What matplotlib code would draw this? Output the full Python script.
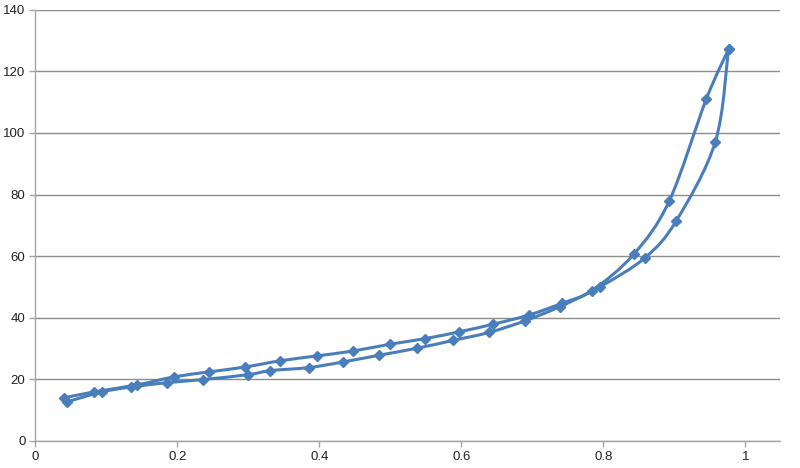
import numpy as np
import matplotlib
matplotlib.use('Agg')
import matplotlib.pyplot as plt
from matplotlib.path import Path
from matplotlib.patches import PathPatch

plt.rcParams['font.family'] = ['Liberation Sans', 'DejaVu Sans']

# upper branch (desorption)
x_up = [0.041, 0.083, 0.144, 0.196, 0.245, 0.296, 0.345, 0.397, 0.448, 0.500,
        0.549, 0.597, 0.645, 0.696, 0.742, 0.784, 0.843, 0.893, 0.945, 0.9765]
y_up = [14.0, 15.9, 18.2, 20.8, 22.4, 24.0, 26.0, 27.6, 29.2, 31.4,
        33.2, 35.4, 37.9, 40.9, 44.7, 48.8, 60.6, 77.9, 110.9, 127.2]

# lower branch (adsorption)
x_low = [0.045, 0.094, 0.135, 0.186, 0.236, 0.300, 0.331, 0.385, 0.433, 0.484,
         0.538, 0.588, 0.639, 0.690, 0.739, 0.796, 0.859, 0.903, 0.958, 0.9765]
y_low = [12.7, 15.9, 17.5, 18.9, 19.9, 21.5, 22.8, 23.8, 25.6, 27.8,
         30.1, 32.6, 35.2, 39.0, 43.6, 50.1, 59.5, 71.5, 97.2, 127.2]

xticks = [0, 0.2, 0.4, 0.6, 0.8, 1]
xlabels = ['0', '0.2', '0.4', '0.6', '0.8', '1']
yticks = [0, 20, 40, 60, 80, 100, 120, 140]

blue = '#4a7ebb'


def smooth_path(xs, ys):
    # excel style smoothed line: cubic bezier through the points
    p = np.column_stack([xs, ys])
    n = len(p)
    verts = [p[0]]
    codes = [Path.MOVETO]
    for i in range(n - 1):
        p0 = p[i - 1] if i > 0 else p[i]
        p3 = p[i + 2] if i + 2 < n else p[i + 1]
        c1 = p[i] + (p[i + 1] - p0) / 6
        c2 = p[i + 1] - (p3 - p[i]) / 6
        verts += [c1, c2, p[i + 1]]
        codes += [Path.CURVE4] * 3
    return Path(verts, codes)


fig = plt.figure(figsize=(8, 4.68), dpi=100)
ax = fig.add_axes([0.044, 0.058, 0.931, 0.921])

for xs, ys in [(x_up, y_up), (x_low, y_low)]:
    ax.add_patch(PathPatch(smooth_path(xs, ys), fill=False, ec=blue, lw=2.2,
                           capstyle='round', joinstyle='round', zorder=3))
    ax.plot(xs, ys, ls='none', marker='D', ms=5.5, color=blue, zorder=4)

ax.set_xlim(0, 1.049)
ax.set_ylim(0, 140)
ax.set_xticks(xticks)
ax.set_xticklabels(xlabels)
ax.set_yticks(yticks)
ax.yaxis.grid(True, color='#8c8c8c', lw=1)
ax.set_axisbelow(True)
for s in ['top', 'right']:
    ax.spines[s].set_visible(False)
for s in ['left', 'bottom']:
    ax.spines[s].set_color('#a6a6a6')
    ax.spines[s].set_linewidth(1)
ax.tick_params(axis='both', length=4, width=1, color='#a6a6a6', labelsize=9.5,
               labelcolor='#222222', pad=3)

fig.savefig('out.png', dpi=100)
